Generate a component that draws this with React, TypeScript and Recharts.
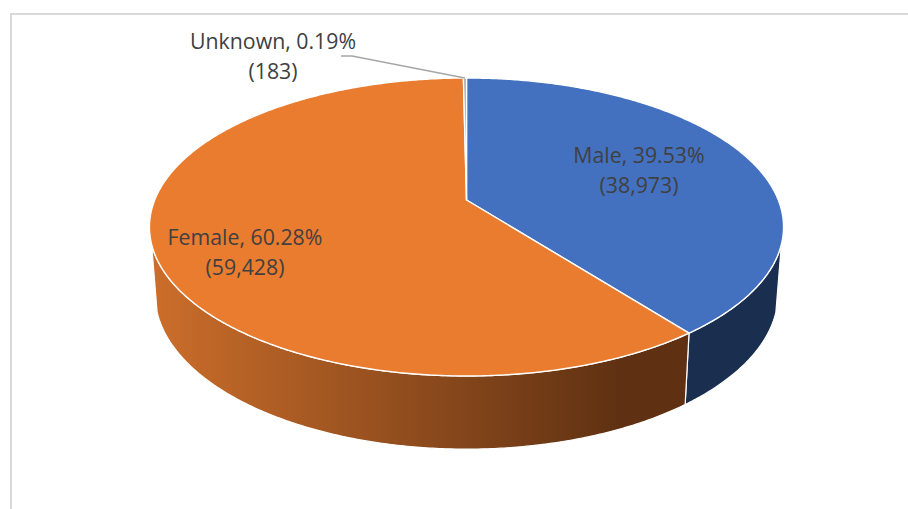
import { PieChart, Pie, Cell } from 'recharts'

const categories = ['Male', 'Female', 'Unknown']
const counts = [38973, 59428, 183]
const topColors = ['#4371C0', '#EA7C30', '#A5A5A5']
const sideColors = ['#1A2E50', 'url(#femaleSide)', '#A5A5A5']

const data = categories.map((name, i) => ({ name, value: counts[i] }))

// label centres, the pie itself comes out of the library's angles
const labelCentres = [
  { x: 639, y: 155 },
  { x: 245, y: 237 },
  { x: 273, y: 41 },
]

const WIDTH = 908
const HEIGHT = 509
const CX = 466.5
const CY = 200
const RADIUS = 317
const TILT = 0.1812

// fake 3D: the flat pie is put through a small perspective projection
const topFace = { ax: 0.9836, by: 0.4546, dy: 0 }
const bottomFace = { ax: 0.9665, by: 0.473, dy: 66 }

type Face = typeof topFace

function project(angle: number, cx: number, cy: number, r: number, f: Face) {
  const rad = (angle * Math.PI) / 180
  const u = Math.cos(rad)
  const v = -Math.sin(rad)
  const w = 1 - TILT * v
  return [cx + (r * f.ax * u) / w, cy + f.dy + (r * f.by * v) / w]
}

function arcPoints(from: number, to: number, cx: number, cy: number, r: number, f: Face) {
  const steps = Math.max(2, Math.ceil(Math.abs(to - from) * 2))
  const pts: number[][] = []
  for (let i = 0; i <= steps; i++) {
    pts.push(project(from + ((to - from) * i) / steps, cx, cy, r, f))
  }
  return pts
}

const toPath = (pts: number[][]) =>
  'M' + pts.map(p => `${p[0].toFixed(2)},${p[1].toFixed(2)}`).join('L') + 'Z'

// part of the rim that faces the viewer, in recharts angles
const RIM_FROM = -17
const RIM_TO = -163

function Slice3D(props: any) {
  const { cx, cy, outerRadius, startAngle, endAngle, index } = props
  const r = outerRadius
  const top = arcPoints(startAngle, endAngle, cx, cy, r, topFace)
  const hi = Math.min(startAngle, RIM_FROM)
  const lo = Math.max(endAngle, RIM_TO)
  const hasSide = hi > lo
  const rimA = hasSide ? arcPoints(hi, lo, cx, cy, r, topFace) : []
  const rimB = hasSide ? arcPoints(lo, hi, cx, cy, r, bottomFace) : []
  return (
    <g>
      <defs>
        <linearGradient id="femaleSide" gradientUnits="userSpaceOnUse" x1="150" y1="0" x2="620" y2="0">
          <stop offset="0" stopColor="#CC6E2B" />
          <stop offset="1" stopColor="#5F3112" />
        </linearGradient>
      </defs>
      {hasSide && (
        <path d={toPath([...rimA, ...rimB])} fill={sideColors[index]} stroke="#fff" strokeWidth={1.2} />
      )}
      <path
        d={toPath([[cx, cy], ...top])}
        fill={topColors[index]}
        stroke="#fff"
        strokeWidth={1.4}
        strokeLinejoin="round"
      />
    </g>
  )
}

function SliceLabel(props: any) {
  const { index, name, percent, value, cx, cy, outerRadius, midAngle } = props
  const pos = labelCentres[index]
  const tip = project(midAngle, cx, cy, outerRadius, topFace)
  return (
    <g>
      {name === 'Unknown' && (
        <polyline
          points={`341,56 352,56 ${tip[0]},${tip[1]}`}
          fill="none"
          stroke="#A6A6A6"
          strokeWidth={1.3}
        />
      )}
      <text
        x={pos.x}
        textAnchor="middle"
        fontFamily="'Open Sans', sans-serif"
        fontSize={21.3}
        fill="#404040"
      >
        <tspan x={pos.x} y={pos.y + 8}>{`${name}, ${(percent * 100).toFixed(2)}%`}</tspan>
        <tspan x={pos.x} y={pos.y + 38}>{`(${value.toLocaleString('en-US')})`}</tspan>
      </text>
    </g>
  )
}

export default function App() {
  return (
    <div style={{ position: 'absolute', left: 0, top: 0, width: WIDTH, height: HEIGHT, overflow: 'hidden', background: '#fff' }}>
      <div style={{ position: 'absolute', left: 10, top: 13, right: 0, height: 2, background: '#D9D9D9' }} />
      <div style={{ position: 'absolute', left: 10, top: 13, bottom: 0, width: 2, background: '#D9D9D9' }} />
      <PieChart width={WIDTH} height={HEIGHT} margin={{ top: 0, right: 0, bottom: 0, left: 0 }}>
        <Pie
          data={data}
          dataKey="value"
          nameKey="name"
          cx={CX}
          cy={CY}
          outerRadius={RADIUS}
          startAngle={90}
          endAngle={-270}
          shape={Slice3D}
          label={SliceLabel}
          labelLine={false}
          isAnimationActive={false}
        >
          {data.map((entry, i) => (
            <Cell key={entry.name} fill={topColors[i]} />
          ))}
        </Pie>
      </PieChart>
    </div>
  )
}
